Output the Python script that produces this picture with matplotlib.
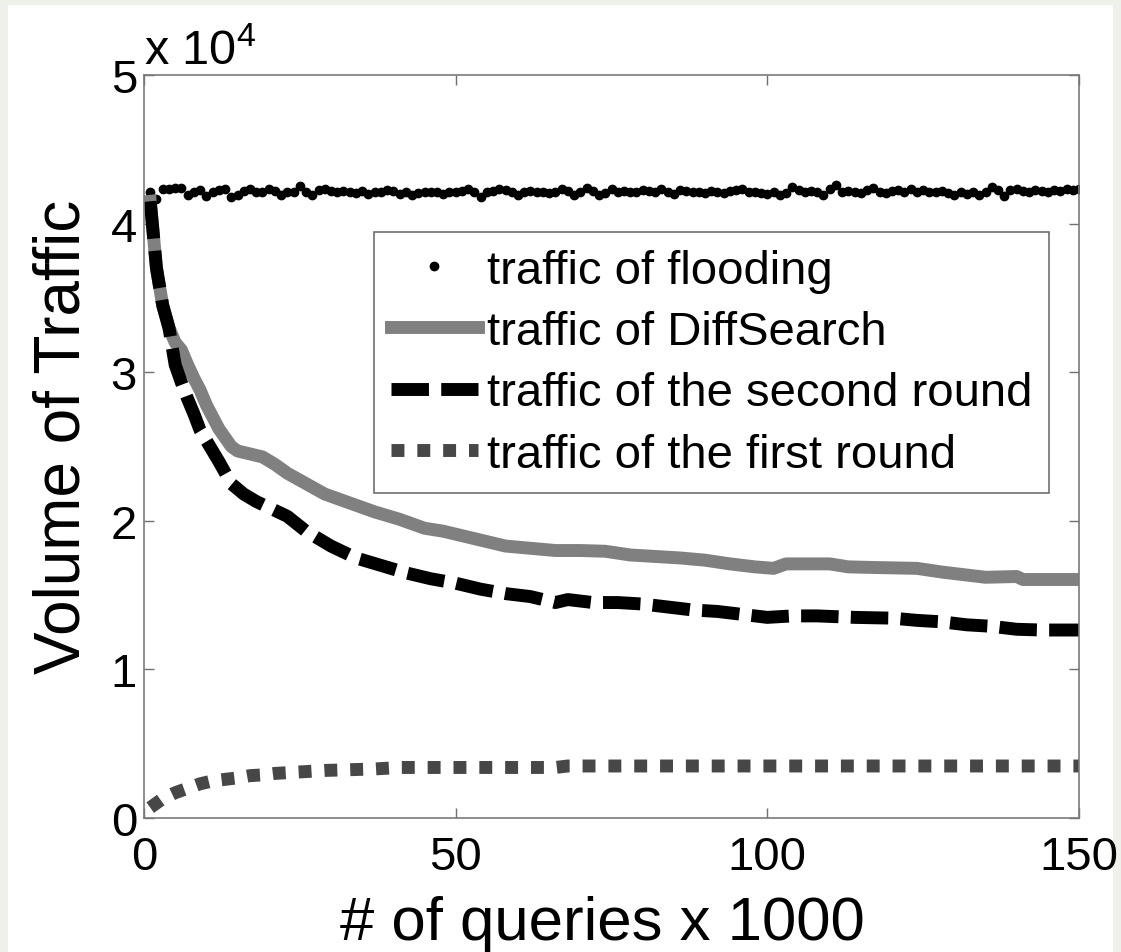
import matplotlib
matplotlib.use("Agg")
import matplotlib.pyplot as plt
from matplotlib.patches import Rectangle
from matplotlib.ticker import FuncFormatter

plt.rcParams['font.family'] = ['Liberation Sans', 'DejaVu Sans']
plt.rcParams['mathtext.fontset'] = 'custom'
plt.rcParams['mathtext.rm'] = 'Liberation Sans'
plt.rcParams['mathtext.it'] = 'Liberation Sans'

# flooding traffic, one sample per 1000 queries (x = 1..150)
flood_x = list(range(1, 151))
flood_y = [
    42100, 41650, 42300, 42350, 42400, 42400, 41900, 42150, 42250, 41850, 42100, 42250, 42300, 41800, 41950,
    42200, 42350, 42100, 42150, 42300, 42200, 41950, 42150, 42100, 42550, 42150, 41900, 42250, 42300, 42200,
    42150, 42200, 42100, 42050, 42200, 42000, 42150, 42100, 42250, 42200, 42000, 42100, 41900, 42050, 42150,
    42150, 42100, 42000, 42100, 42150, 42200, 42300, 42150, 41800, 42150, 42200, 42300, 42250, 42100, 41950,
    42100, 42200, 42150, 42100, 42050, 42150, 42300, 42200, 41900, 42100, 42400, 42200, 41950, 42050, 42300,
    42150, 42200, 42150, 42100, 42250, 42200, 42100, 42300, 42150, 42000, 42250, 42200, 42100, 42150, 42050,
    42200, 42150, 42050, 42200, 42250, 42300, 42100, 42150, 42050, 42000, 42150, 41950, 42050, 42450, 42250,
    42100, 42200, 42150, 41950, 42300, 42600, 42100, 42200, 42150, 42050, 42250, 42400, 42100, 42050, 42200,
    42250, 42150, 42300, 42100, 42250, 42150, 42100, 42200, 42050, 41950, 42100, 42000, 42150, 41900, 42100,
    42450, 42250, 41850, 42250, 42300, 42200, 42150, 42250, 42200, 42150, 42250, 42200, 42300, 42250, 42300,
]

# DiffSearch total traffic
diff_x = [1, 2, 3, 4, 5, 6, 7, 8, 9, 10, 11, 12, 14, 15, 17, 19, 21, 23, 26, 29, 33, 37, 41, 45, 48,
          51, 54, 58, 62, 66, 70, 74, 78, 82, 86, 90, 94, 98, 101, 103, 106, 110, 113, 118, 124, 128,
          131, 135, 140, 141, 145, 150]
diff_y = [41500, 37000, 34500, 33000, 32000, 31500, 30500, 29600, 28800, 27800, 27000, 26200, 25000,
          24700, 24500, 24300, 23800, 23200, 22500, 21800, 21200, 20600, 20100, 19500, 19300,
          19000, 18700, 18300, 18150, 18000, 18000, 17950, 17700, 17600, 17500, 17350, 17100, 16900,
          16800, 17100, 17100, 17100, 16900, 16850, 16800, 16550, 16400, 16200, 16250, 16050, 16050, 16050]

# second round traffic
second_x = [1, 2, 3, 4, 5, 6, 7, 8, 9, 10, 12, 14, 16, 18, 20, 23, 26, 30, 34, 38, 42, 46, 50, 54, 58,
            62, 66, 68, 72, 76, 80, 84, 88, 92, 96, 100, 104, 108, 114, 120, 124, 128, 132, 136, 140,
            144, 150]
second_y = [41500, 37000, 34500, 33000, 30500, 29300, 28200, 27200, 26100, 25400, 24000, 22500, 21800,
            21300, 20900, 20300, 19300, 18300, 17500, 17000, 16500, 16100, 15800, 15400, 15100,
            14900, 14500, 14700, 14500, 14500, 14400, 14200, 14000, 13900, 13700, 13500, 13600, 13600,
            13500, 13450, 13300, 13200, 13000, 12900, 12700, 12650, 12650]

# first round traffic
first_x = [1, 3, 5, 7, 9, 11, 13, 15, 17, 19, 21, 25, 29, 33, 37, 41, 50, 60, 66, 68, 80, 100, 120, 150]
first_y = [700, 1300, 1700, 2000, 2300, 2500, 2600, 2700, 2850, 2900, 3000, 3100, 3200, 3250, 3300,
           3400, 3400, 3400, 3400, 3500, 3500, 3500, 3500, 3500]

fig = plt.figure(figsize=(11.21, 9.53), dpi=100, facecolor='#eef0ea')
fig.patches.append(Rectangle((8 / 1121, 0), 1105 / 1121, 1 - 6 / 953, transform=fig.transFigure,
                             facecolor='white', edgecolor='none', zorder=-10))
ax = fig.add_axes([144 / 1121, 1 - 819 / 953, 935 / 1121, 743 / 953])

ax.plot(flood_x, flood_y, linestyle='none', marker='o', markersize=6, color='black',
        label='traffic of flooding')
ax.plot(diff_x, diff_y, color='#808080', linewidth=9.3, solid_joinstyle='round',
        label='traffic of DiffSearch')
ax.plot(second_x, second_y, color='black', linewidth=9.3, dashes=(2.9, 0.95),
        label='traffic of the second round')
ax.plot(first_x, first_y, color='#474747', linewidth=9.3, dashes=(1, 1),
        label='traffic of the first round')

ax.set_xlim(0, 150)
ax.set_ylim(0, 50000)
ax.set_xticks([0, 50, 100, 150])
ax.set_yticks([0, 10000, 20000, 30000, 40000, 50000])
ax.yaxis.set_major_formatter(FuncFormatter(lambda v, p: f'{v / 1e4:g}'))
ax.tick_params(direction='in', length=7, width=1, color='#707070', labelsize=34,
               top=True, right=True)
ax.tick_params(axis='x', pad=12)
ax.tick_params(axis='y', pad=5)
for s in ax.spines.values():
    s.set_color('#7a7a7a')
    s.set_linewidth(1.2)

fig.text(144 / 1121, 1 - 65 / 953, r'x 10$^{4}$', fontsize=35, ha='left', va='baseline')
fig.text(602 / 1121, 13 / 953, '# of queries x 1000', fontsize=44.5, ha='center', va='baseline')
fig.text(80 / 1121, 1 - 437 / 953, 'Volume of Traffic', fontsize=46, rotation=90,
         rotation_mode='anchor', ha='center', va='baseline')

leg = ax.legend(loc='upper left', bbox_to_anchor=((374 - 144) / 935, (819 - 233) / 743),
                borderaxespad=0, fontsize=34, handlelength=1.85, handletextpad=0.2,
                labelspacing=0.37, borderpad=0.35, fancybox=False, framealpha=1,
                edgecolor='#707070')
leg.get_frame().set_linewidth(1.2)

plt.savefig('out.png', dpi=100, facecolor=fig.get_facecolor())
